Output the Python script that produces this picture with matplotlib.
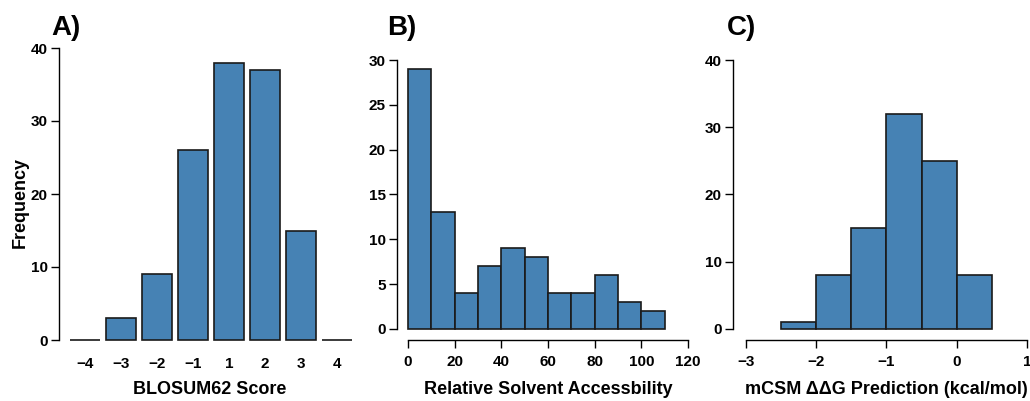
import matplotlib
matplotlib.use("Agg")
import matplotlib.pyplot as plt
import numpy as np

plt.rcParams['font.family'] = ['Liberation Sans', 'DejaVu Sans']
plt.rcParams['font.weight'] = 'bold'

# A) BLOSUM62 score counts
blosum_labels = ['-4', '-3', '-2', '-1', '1', '2', '3', '4']
blosum_counts = [0, 3, 9, 26, 38, 37, 15, 0]

# B) relative solvent accessibility histogram (bins of 10)
rsa_edges = [0, 10, 20, 30, 40, 50, 60, 70, 80, 90, 100, 110]
rsa_counts = [29, 13, 4, 7, 9, 8, 4, 4, 6, 3, 2]

# C) mCSM ddG histogram (bins of 0.5)
ddg_edges = [-2.5, -2.0, -1.5, -1.0, -0.5, 0.0, 0.5]
ddg_counts = [1, 8, 15, 32, 25, 8]

fill = '#4682B4'
edge = '#1a1a1a'
W, H = 1030, 401

fig = plt.figure(figsize=(W / 100, H / 100), dpi=100)

def frac(left, right, top, bottom):
    return [left / W, 1 - bottom / H, (right - left) / W, (bottom - top) / H]

tick_kw = dict(direction='out', length=6, width=1, labelsize=11, pad=2)

# ---------------- A ----------------
axA = fig.add_axes(frac(59, 355, 48, 340))
xpos = np.arange(len(blosum_counts))
axA.bar(xpos, blosum_counts, width=0.83, color=fill, edgecolor=edge, linewidth=1.2, clip_on=False)
axA.set_xlim(-0.722, 7.5)
axA.set_ylim(0, 40)
axA.set_yticks([0, 10, 20, 30, 40])
axA.set_xticks(xpos)
axA.set_xticklabels([l.replace('-', '\u2212') for l in blosum_labels])
for s in ['top', 'right', 'bottom']:
    axA.spines[s].set_visible(False)
axA.tick_params(axis='y', **tick_kw)
axA.tick_params(axis='x', length=0, labelsize=11, pad=12)

# ---------------- B ----------------
axB = fig.add_axes(frac(397, 688, 60, 340))
axB.hist(rsa_edges[:-1], bins=rsa_edges, weights=rsa_counts, color=fill, edgecolor=edge, linewidth=1.2)
axB.set_xlim(-4.71, 120)
axB.set_ylim(-1.227, 30)
axB.set_xticks(range(0, 121, 20))
axB.set_yticks(range(0, 31, 5))
axB.spines['left'].set_bounds(0, 30)
axB.spines['bottom'].set_bounds(0, 120)

# ---------------- C ----------------
axC = fig.add_axes(frac(733, 1027, 60, 340))
axC.hist(ddg_edges[:-1], bins=ddg_edges, weights=ddg_counts, color=fill, edgecolor=edge, linewidth=1.2)
axC.set_xlim(-3.185, 1)
axC.set_ylim(-1.636, 40)
axC.set_xticks([-3, -2, -1, 0, 1])
axC.set_yticks([0, 10, 20, 30, 40])
axC.spines['left'].set_bounds(0, 40)
axC.spines['bottom'].set_bounds(-3, 1)

for ax in (axB, axC):
    for s in ['top', 'right']:
        ax.spines[s].set_visible(False)
    ax.tick_params(axis='both', **tick_kw)
    ax.tick_params(axis='x', pad=5)

for ax in (axA, axB, axC):
    for s in ax.spines.values():
        s.set_linewidth(1)
    for lab in ax.get_xticklabels() + ax.get_yticklabels():
        lab.set_fontweight('bold')

# axis labels and panel tags
fig.text(20 / W, 1 - 203 / H, 'Frequency', ha='center', va='center', rotation=90, fontsize=13, fontweight='bold')
fig.text(210 / W, 1 - 390 / H, 'BLOSUM62 Score', ha='center', va='center', fontsize=13, fontweight='bold')
fig.text(548 / W, 1 - 390 / H, 'Relative Solvent Accessbility', ha='center', va='center', fontsize=13, fontweight='bold')
fig.text(886 / W, 1 - 390 / H, 'mCSM \u0394\u0394G Prediction (kcal/mol)', ha='center', va='center', fontsize=13, fontweight='bold')

for x, tag in [(51, 'A)'), (387, 'B)'), (727, 'C)')]:
    fig.text(x / W, 1 - 28 / H, tag, ha='left', va='center', fontsize=20, fontweight='bold')

fig.savefig('out.png', dpi=100)
